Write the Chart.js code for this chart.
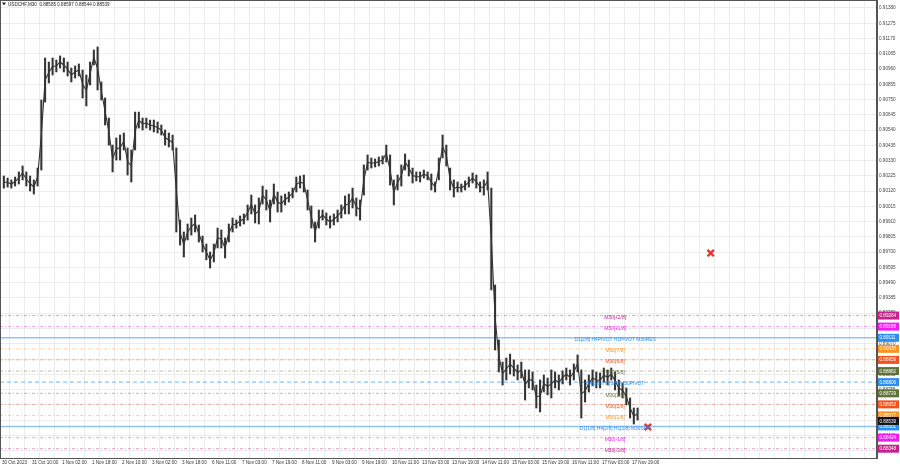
<!DOCTYPE html>
<html>
<head>
<meta charset="utf-8">
<script src="https://cdn.jsdelivr.net/npm/chart.js@4.4.0/dist/chart.umd.min.js"></script>
<style>
  html, body { margin: 0; padding: 0; background: #fff; }
  canvas { display: block; }
</style>
</head>
<body>
<canvas id="price-chart" width="900" height="468"></canvas>
<script>
// 2-hour columns (4 x M30 bars each), highs and lows
const highs = [0.90224,0.90210,0.90197,0.90217,0.90252,0.90293,0.90252,0.90224,0.90197,0.90279,
  0.90747,0.91036,0.91008,0.91036,0.91022,0.91050,0.91036,0.91008,0.90967,0.90981,
  0.90995,0.90953,0.90919,0.91008,0.91091,0.91112,0.90871,0.90761,0.90623,0.90437,
  0.90486,0.90506,0.90520,0.90417,0.90403,0.90664,0.90664,0.90623,0.90623,0.90609,
  0.90609,0.90596,0.90575,0.90541,0.90520,0.90506,0.90417,0.89921,0.89839,0.89894,
  0.89935,0.89956,0.89887,0.89811,0.89756,0.89701,0.89756,0.89866,0.89853,0.89798,
  0.89894,0.89935,0.89921,0.89949,0.89963,0.90025,0.90093,0.90025,0.90073,0.90155,
  0.90128,0.90059,0.90169,0.90114,0.90087,0.90100,0.90114,0.90141,0.90217,0.90224,
  0.90231,0.90128,0.90018,0.89908,0.89990,0.89990,0.89970,0.89949,0.89963,0.89990,
  0.90025,0.90087,0.90100,0.90141,0.90073,0.90059,0.90300,0.90369,0.90348,0.90341,
  0.90355,0.90362,0.90437,0.90369,0.90197,0.90231,0.90300,0.90376,0.90334,0.90279,
  0.90252,0.90252,0.90265,0.90252,0.90238,0.90183,0.90348,0.90506,0.90437,0.90279,
  0.90197,0.90183,0.90169,0.90190,0.90217,0.90245,0.90231,0.90183,0.90197,0.90252,
  0.90141,0.89474,0.89096,0.88944,0.88972,0.88999,0.88958,0.88924,0.88944,0.88890,
  0.88890,0.88876,0.88786,0.88821,0.88855,0.88834,0.88890,0.88876,0.88855,0.88883,
  0.88903,0.88890,0.88931,0.88993,0.88890,0.88821,0.88855,0.88890,0.88876,0.88869,
  0.88903,0.88890,0.88903,0.88876,0.88821,0.88800,0.88766,0.88697,0.88628,0.88628];

const lows = [0.90141,0.90148,0.90141,0.90155,0.90169,0.90197,0.90155,0.90121,0.90100,0.90155,
  0.90265,0.90733,0.90864,0.90919,0.90940,0.90967,0.90940,0.90912,0.90871,0.90898,
  0.90912,0.90761,0.90706,0.90850,0.90988,0.90816,0.90747,0.90575,0.90437,0.90252,
  0.90334,0.90334,0.90403,0.90231,0.90183,0.90403,0.90554,0.90541,0.90554,0.90541,
  0.90527,0.90520,0.90506,0.90437,0.90424,0.90403,0.89839,0.89749,0.89667,0.89784,
  0.89818,0.89839,0.89770,0.89701,0.89647,0.89591,0.89633,0.89729,0.89729,0.89660,
  0.89770,0.89839,0.89866,0.89880,0.89894,0.89921,0.89963,0.89901,0.89894,0.90031,
  0.89990,0.89908,0.90031,0.89976,0.89976,0.90025,0.90045,0.90073,0.90114,0.90141,
  0.90114,0.89990,0.89866,0.89770,0.89866,0.89921,0.89887,0.89866,0.89887,0.89908,
  0.89935,0.89963,0.89963,0.90004,0.89949,0.89921,0.90093,0.90265,0.90279,0.90286,
  0.90293,0.90307,0.90320,0.90162,0.90025,0.90128,0.90155,0.90265,0.90224,0.90176,
  0.90190,0.90183,0.90210,0.90197,0.90128,0.90114,0.90197,0.90348,0.90293,0.90128,
  0.90080,0.90114,0.90114,0.90128,0.90148,0.90176,0.90141,0.90114,0.90093,0.90128,
  0.89440,0.89027,0.88876,0.88786,0.88821,0.88862,0.88848,0.88821,0.88834,0.88683,
  0.88766,0.88752,0.88628,0.88601,0.88738,0.88718,0.88697,0.88766,0.88752,0.88793,
  0.88821,0.88786,0.88821,0.88876,0.88559,0.88669,0.88738,0.88780,0.88766,0.88766,
  0.88807,0.88786,0.88821,0.88752,0.88711,0.88697,0.88649,0.88559,0.88518,0.88545];

const barsPerColumn = 4;

// time axis labels, one every 32 bars
const timeLabels = ["30 Oct 2023", "31 Oct 10:00", "1 Nov 02:00", "1 Nov 18:00", "2 Nov 10:00",
  "3 Nov 02:00", "3 Nov 18:00", "6 Nov 11:00", "7 Nov 03:00", "7 Nov 19:00", "8 Nov 11:00",
  "9 Nov 03:00", "9 Nov 19:00", "10 Nov 11:00", "13 Nov 03:00", "13 Nov 19:00", "14 Nov 11:00",
  "15 Nov 03:00", "15 Nov 19:00", "16 Nov 11:00", "17 Nov 03:00", "17 Nov 19:00"];

// price axis tick labels
const priceTicks = [0.91380, 0.91275, 0.91170, 0.91065, 0.90960, 0.90855, 0.90750, 0.90645,
  0.90540, 0.90435, 0.90330, 0.90225, 0.90120, 0.90015, 0.89910, 0.89805, 0.89700, 0.89595,
  0.89490, 0.89385, 0.89280, 0.89175, 0.89070, 0.88965, 0.88860, 0.88755, 0.88650, 0.88545,
  0.88440, 0.88335];

// Murrey / pivot levels
const levelNames = ["M30[+2/8]", "M30[+1/8]", "D1[2/8] H4PIVOT H1PIVOT M30RES", "M30[7/8]",
  "M30[6/8]", "M30[5/8]", "H4[3/8] H1[3/8] M30PIVOT", "M30[3/8]", "M30[2/8]", "M30[1/8]",
  "D1[1/8] H4[2/8] H1[2/8] M30SUP", "M30[-1/8]", "M30[-2/8]"];
const levelValues = [0.89264, 0.89188, 0.89111, 0.89035, 0.88959, 0.88882, 0.88806,
  0.88729, 0.88653, 0.88577, 0.88501, 0.88424, 0.88348];
const levelColors = ["#c8218f", "#f01cf0", "#2b8fef", "#f7931e", "#f2531b", "#5d7138",
  "#2b8fef", "#5d7138", "#f2531b", "#f7931e", "#2b8fef", "#f01cf0", "#c8218f"];

// header: symbol + OHLC of last bar
const symbol = "USDCHF,M30";
const lastOHLC = [0.88585, 0.88597, 0.88544, 0.88539];

// red cross markers (bar index, price)
const crossBars = [756, 689];
const crossPrices = [0.89694, 0.88497];

const X_MIN = -2.1;
const X_MAX = 933.4;
const Y_MIN = 0.88284;
const Y_MAX = 0.91435;
const LABEL_BAR = 654;

const fontFamily = "'Liberation Sans', Arial, sans-serif";

const candleData = highs.map((h, i) => ({ x: i * barsPerColumn + 2, y: [lows[i], h] }));
const midData = highs.map((h, i) => ({ x: i * barsPerColumn + 2, y: (h + lows[i]) / 2 }));

const levelSets = levelValues.map((v, i) => {
  const solid = levelNames[i].indexOf("D1") === 0;
  const pivot = levelNames[i].indexOf("PIVOT") > -1 && !solid;
  return {
    type: 'line',
    data: [{ x: X_MIN, y: v }, { x: X_MAX, y: v }],
    borderColor: solid ? 'rgba(120,180,240,0.8)' : levelColors[i] + (pivot ? 'aa' : '70'),
    borderWidth: solid ? 1.5 : 1,
    borderDash: solid ? [] : (pivot ? [4, 3] : [3, 2, 1, 2]),
    pointRadius: 0,
    order: 3
  };
});

//Plugin for header, level texts and price boxes
const overlays = {
  id: 'overlays',
  afterDatasetsDraw(chart) {
    const ctx = chart.ctx;
    const xs = chart.scales.x;
    const ys = chart.scales.y;
    ctx.save();
    ctx.font = "4.9px " + fontFamily;
    ctx.textAlign = 'center';
    ctx.textBaseline = 'middle';
    levelNames.forEach((name, i) => {
      ctx.fillStyle = levelColors[i];
      ctx.fillText(name, xs.getPixelForValue(LABEL_BAR), ys.getPixelForValue(levelValues[i]) + 2);
    });
    ctx.restore();
  },
  afterDraw(chart) {
    const ctx = chart.ctx;
    const area = chart.chartArea;
    const ys = chart.scales.y;
    ctx.save();
    // frame
    ctx.strokeStyle = '#555';
    ctx.lineWidth = 1;
    ctx.strokeRect(area.left + 0.5, area.top + 0.5, area.right - area.left - 1, area.bottom - area.top);

    // header
    ctx.fillStyle = '#222';
    ctx.beginPath();
    ctx.moveTo(2, 2.5);
    ctx.lineTo(6, 2.5);
    ctx.lineTo(4, 5.5);
    ctx.fill();
    ctx.font = "4.6px " + fontFamily;
    ctx.textBaseline = 'middle';
    ctx.textAlign = 'left';
    ctx.fillText(symbol + "  " + lastOHLC.map(v => v.toFixed(5)).join(" "), 8, 4.5);

    // price boxes
    const boxes = levelValues.map((v, i) => [v, levelColors[i]]);
    boxes.push([lastOHLC[3], '#111']);
    boxes.forEach(b => {
      const y = ys.getPixelForValue(b[0]);
      ctx.fillStyle = b[1];
      ctx.fillRect(area.right + 1, y - 4, 21, 8);
      ctx.fillStyle = '#fff';
      ctx.fillText(b[0].toFixed(5), area.right + 2.5, y + 0.3);
    });
    ctx.restore();
  }
};

const priceChart = new Chart(document.getElementById("price-chart"), {
  type: 'bar',
  data: {
    datasets: [{
      type: 'bar',
      data: candleData,
      backgroundColor: '#333',
      borderWidth: 0,
      barThickness: 1.4,
      order: 1
    }, {
      type: 'line',
      data: midData,
      borderColor: '#333',
      borderWidth: 1.1,
      pointRadius: 0,
      tension: 0,
      order: 2
    }, {
      type: 'scatter',
      data: crossBars.map((b, i) => ({ x: b, y: crossPrices[i] })),
      pointStyle: 'crossRot',
      pointRadius: 4.5,
      borderColor: '#e8322a',
      borderWidth: 2.4,
      order: 0
    }].concat(levelSets)
  },
  options: {
    responsive: false,
    animation: false,
    devicePixelRatio: 1,
    layout: { padding: 0, autoPadding: false },
    plugins: {
      legend: { display: false },
      tooltip: { enabled: false }
    },
    scales: {
      x: {
        type: 'linear',
        min: X_MIN,
        max: X_MAX,
        offset: false,
        afterBuildTicks: scale => {
          const t = [];
          for (let b = 0; b <= 928; b += 16) t.push({ value: b });
          scale.ticks = t;
        },
        afterFit: scale => {
          scale.height = 10;
          scale.paddingLeft = 0;
          scale.paddingRight = 0;
        },
        grid: { color: '#ececec', drawTicks: false },
        border: { color: '#555' },
        ticks: {
          autoSkip: false,
          maxRotation: 0,
          minRotation: 0,
          align: 'start',
          padding: 2,
          color: '#333',
          font: { size: 4.6, family: fontFamily },
          callback: v => (v % 32 === 0 && timeLabels[v / 32]) ? timeLabels[v / 32] : ''
        }
      },
      y: {
        position: 'right',
        min: Y_MIN,
        max: Y_MAX,
        afterBuildTicks: scale => {
          scale.ticks = priceTicks.map(v => ({ value: v }));
        },
        afterFit: scale => {
          scale.width = 23;
          scale.paddingTop = 0;
          scale.paddingBottom = 0;
        },
        grid: { color: '#ececec', drawTicks: false },
        border: { color: '#555' },
        ticks: {
          padding: 2,
          color: '#444',
          font: { size: 4.6, family: fontFamily },
          callback: v => v.toFixed(5)
        }
      }
    }
  },
  plugins: [overlays]
});
</script>
</body>
</html>
